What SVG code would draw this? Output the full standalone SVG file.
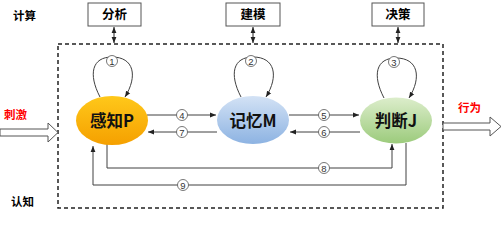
<svg xmlns="http://www.w3.org/2000/svg" width="502" height="226" viewBox="0 0 502 226">
<defs>
<style>
.lbl{font-family:"Noto Sans CJK SC","Liberation Sans",sans-serif;font-weight:bold;font-size:11.5px;fill:#000}
.red{fill:#ff0000}
.box{fill:#fff;stroke:#555;stroke-width:1}
.boxt{font-family:"Noto Sans CJK SC","Liberation Sans",sans-serif;font-weight:bold;font-size:12.5px;text-anchor:middle;fill:#000}
.node{stroke:none}
.nt{font-family:"Noto Sans CJK SC","Liberation Sans",sans-serif;font-weight:bold;font-size:16.5px;text-anchor:middle;fill:#111}
.ln{fill:none;stroke:#404040;stroke-width:1}
.dash{fill:none;stroke:#222;stroke-width:1.5;stroke-dasharray:4,3}
.num{fill:#fff;stroke:#555;stroke-width:0.8}
.nn{font-family:"Liberation Sans",sans-serif;font-size:9.5px;text-anchor:middle;fill:#333}
.hollow{fill:#fff;stroke:#555;stroke-width:1}
</style>
<linearGradient id="gP" x1="0" y1="0" x2="0" y2="1"><stop offset="0" stop-color="#FFC81A"/><stop offset="1" stop-color="#F5A000"/></linearGradient>
<linearGradient id="gM" x1="0" y1="0" x2="0" y2="1"><stop offset="0" stop-color="#D3E2F5"/><stop offset="1" stop-color="#8DB3E2"/></linearGradient>
<linearGradient id="gJ" x1="0" y1="0" x2="0" y2="1"><stop offset="0" stop-color="#DCEDCB"/><stop offset="1" stop-color="#9CCB7C"/></linearGradient>
<marker id="ah" viewBox="0 0 10 10" refX="10" refY="5" markerWidth="6" markerHeight="6" orient="auto-start-reverse" markerUnits="userSpaceOnUse"><path d="M0,1 L10,5 L0,9 z" fill="#222"/></marker>
</defs>
<rect width="502" height="226" fill="#fff"/>

<text class="lbl" x="13" y="20">计算</text>
<text class="lbl red" x="4" y="119">刺激</text>
<text class="lbl red" x="458" y="112">行为</text>
<text class="lbl" x="11" y="206">认知</text>

<rect class="dash" x="58" y="44" width="385" height="164"/>

<g id="box-fenxi"><rect class="box" x="88" y="3" width="53" height="23"/><text class="boxt" x="114.5" y="19">分析</text></g>
<g id="box-jianmo"><rect class="box" x="226" y="3" width="54" height="23"/><text class="boxt" x="253" y="19">建模</text></g>
<g id="box-juece"><rect class="box" x="372" y="3" width="52" height="23"/><text class="boxt" x="398" y="19">决策</text></g>

<g id="stim"><path class="hollow" d="M0,129 H48 V123 L58,132.5 L48,142 V136 H0 z"/></g>
<g id="act"><path class="hollow" d="M443,123 H490 V117 L501,126.5 L490,136 V130 H443 z"/></g>

<g id="connectors">
<line class="ln" x1="114" y1="27" x2="114" y2="43" marker-start="url(#ah)" marker-end="url(#ah)" style="stroke:#222"/>
<line class="ln" x1="253" y1="27" x2="253" y2="43" marker-start="url(#ah)" marker-end="url(#ah)" style="stroke:#222"/>
<line class="ln" x1="398" y1="27" x2="398" y2="43" marker-start="url(#ah)" marker-end="url(#ah)" style="stroke:#222"/>
<path class="ln" d="M100,97 C88,74 92,57 112,57 C134,57 138,76 125,97" marker-end="url(#ah)"/>
<path class="ln" d="M241,97 C229,74 233,57 253,57 C275,57 279,76 266,97" marker-end="url(#ah)"/>
<path class="ln" d="M384,98 C372,75 376,58 396,58 C418,58 422,77 409,98" marker-end="url(#ah)"/>
<line class="ln" x1="147" y1="115" x2="216" y2="115" marker-end="url(#ah)"/>
<line class="ln" x1="217" y1="132" x2="148" y2="132" marker-end="url(#ah)"/>
<line class="ln" x1="289" y1="115" x2="359" y2="115" marker-end="url(#ah)"/>
<line class="ln" x1="360" y1="132" x2="290" y2="132" marker-end="url(#ah)"/>
<path class="ln" d="M107,144 V168 H392 V144" marker-end="url(#ah)"/>
<path class="ln" d="M406,143 V185 H93 V146" marker-end="url(#ah)"/>
<g id="nums">
<circle class="num" cx="112" cy="61" r="5.5"/><text class="nn" x="112" y="64.5">1</text>
<circle class="num" cx="251" cy="61" r="5.5"/><text class="nn" x="251" y="64.5">2</text>
<circle class="num" cx="394" cy="62" r="5.5"/><text class="nn" x="394" y="65.5">3</text>
<circle class="num" cx="182" cy="115" r="5.5"/><text class="nn" x="182" y="118.5">4</text>
<circle class="num" cx="182" cy="132" r="5.5"/><text class="nn" x="182" y="135.5">7</text>
<circle class="num" cx="324" cy="115" r="5.5"/><text class="nn" x="324" y="118.5">5</text>
<circle class="num" cx="324" cy="132" r="5.5"/><text class="nn" x="324" y="135.5">6</text>
<circle class="num" cx="324" cy="168" r="5.5"/><text class="nn" x="324" y="171.5">8</text>
<circle class="num" cx="183" cy="185" r="5.5"/><text class="nn" x="183" y="188.5">9</text>
</g>
</g>

<g id="node-P"><ellipse class="node" cx="112" cy="120.5" rx="36" ry="24.5" fill="url(#gP)"/><text class="nt" x="112" y="126.5">感知P</text></g>
<g id="node-M"><ellipse class="node" cx="253" cy="120" rx="36" ry="24" fill="url(#gM)"/><text class="nt" x="253" y="126.5">记忆M</text></g>
<g id="node-J"><ellipse class="node" cx="396" cy="120.5" rx="36" ry="23" fill="url(#gJ)"/><text class="nt" x="396" y="126.5">判断J</text></g>
</svg>
